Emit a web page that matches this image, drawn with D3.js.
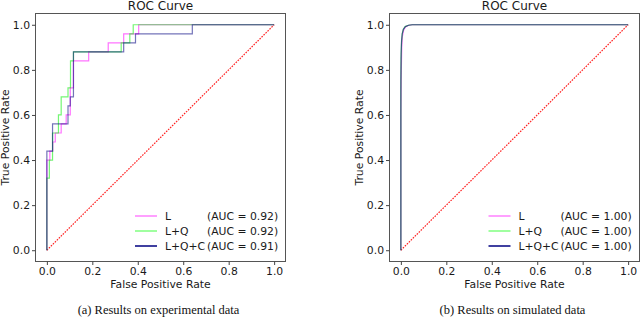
<!DOCTYPE html>
<html>
<head>
<meta charset="utf-8">
<script src="https://cdn.jsdelivr.net/npm/d3@7"></script>
<style>
  body { margin: 0; background: #fff; }
  text { font-family: "DejaVu Sans", sans-serif; fill: #1a1a1a; }
  .tick text { font-size: 10.8px; fill: #1a1a1a; }
  .tick line { stroke: #444; }
  .frame { fill: none; stroke: #555; stroke-width: 1; }
  .caption { font-family: "Liberation Serif", serif; font-size: 12.5px; fill: #111; }
  .diag { stroke: #ff2020; stroke-width: 1.2; stroke-dasharray: 1.6,1.2; fill: none; }
  .curve { fill: none; stroke-width: 1.2; stroke-opacity: 0.55; }
</style>
</head>
<body>
<svg id="chart" width="640" height="317"></svg>
<script>
// legend labels and AUC values
var curveNames = ['L', 'L+Q', 'L+Q+C'];
var curveColors = ['#ff00ff', '#00ee00', '#000080'];
var legendColors = ['#ff80ff', '#80ff80', '#000080'];
var expAUC = ['0.92', '0.92', '0.91'];
var simAUC = ['1.00', '1.00', '1.00'];
var ticks = [0, 0.2, 0.4, 0.6, 0.8, 1.0];

// (a) experimental data, step ROC curves
var expFprL = [0, 0, 0.013, 0.013, 0.026, 0.026, 0.037, 0.037, 0.063, 0.063, 0.085, 0.085, 0.103, 0.103, 0.117, 0.117, 0.184, 0.184, 0.27, 0.27, 0.338, 0.338, 0.404, 0.404, 1];
var expTprL = [0, 0.40, 0.40, 0.44, 0.44, 0.48, 0.48, 0.52, 0.52, 0.56, 0.56, 0.60, 0.60, 0.72, 0.72, 0.84, 0.84, 0.88, 0.88, 0.92, 0.92, 0.96, 0.96, 1.0, 1.0];
var expFprLQ = [0, 0, 0.011, 0.011, 0.025, 0.025, 0.051, 0.051, 0.063, 0.063, 0.093, 0.093, 0.104, 0.104, 0.117, 0.117, 0.327, 0.327, 0.365, 0.365, 0.38, 0.38, 1];
var expTprLQ = [0, 0.32, 0.32, 0.40, 0.40, 0.52, 0.52, 0.60, 0.60, 0.68, 0.68, 0.72, 0.72, 0.84, 0.84, 0.88, 0.88, 0.92, 0.92, 0.96, 0.96, 1.0, 1.0];
var expFprLQC = [0, 0, 0.025, 0.025, 0.093, 0.093, 0.103, 0.103, 0.117, 0.117, 0.338, 0.338, 0.39, 0.39, 0.64, 0.64, 1];
var expTprLQC = [0, 0.44, 0.44, 0.56, 0.56, 0.64, 0.64, 0.68, 0.68, 0.88, 0.88, 0.92, 0.92, 0.96, 0.96, 1.0, 1.0];

// (b) simulated data, smooth ROC curves hugging the corner
var simFprL = [0, 0, 0.002, 0.004, 0.007, 0.012, 0.02, 0.035, 0.05, 1];
var simTprL = [0, 0.6, 0.8, 0.9, 0.95, 0.975, 0.99, 0.998, 1.0, 1.0];
var simFprLQ = [0, 0, 0.001, 0.003, 0.006, 0.011, 0.019, 0.033, 0.05, 1];
var simTprLQ = [0, 0.7, 0.85, 0.92, 0.96, 0.98, 0.992, 0.998, 1.0, 1.0];
var simFprLQC = [0, 0, 0.001, 0.003, 0.006, 0.011, 0.02, 0.034, 0.05, 1];
var simTprLQC = [0, 0.75, 0.87, 0.93, 0.96, 0.98, 0.992, 0.998, 1.0, 1.0];

var svg = d3.select('#chart');

function drawPanel(left, right, curves, auc, caption, lx) {
  var top = 13.5, bottom = 261.5;
  var pw = right - left, ph = bottom - top;
  var x = d3.scaleLinear().domain([-0.05, 1.05]).range([left, right]);
  var y = d3.scaleLinear().domain([-0.05, 1.05]).range([bottom, top]);
  var g = svg.append('g');

  // diagonal reference
  g.append('line').attr('class', 'diag')
    .attr('x1', x(0)).attr('y1', y(0)).attr('x2', x(1)).attr('y2', y(1));

  var line = d3.line().x(d => x(d[0])).y(d => y(d[1]));
  curves.forEach((c, i) => {
    var pts = c[0].map((v, k) => [v, c[1][k]]);
    g.append('path').attr('class', 'curve')
      .attr('d', line(pts))
      .attr('stroke', curveColors[i]);
  });

  g.append('rect').attr('class', 'frame')
    .attr('x', left).attr('y', top).attr('width', pw).attr('height', ph);

  g.append('g').attr('transform', 'translate(0,' + bottom + ')')
    .call(d3.axisBottom(x).tickValues(ticks).tickFormat(d3.format('.1f')).tickSize(3.5).tickPadding(2))
    .call(a => a.select('.domain').remove());
  g.append('g').attr('transform', 'translate(' + left + ',0)')
    .call(d3.axisLeft(y).tickValues(ticks).tickFormat(d3.format('.1f')).tickSize(3.5).tickPadding(2))
    .call(a => a.select('.domain').remove());
  g.selectAll('.tick text').attr('font-family', '"DejaVu Sans", sans-serif');

  var cx = (left + right) / 2;
  g.append('text').attr('x', cx).attr('y', 9.5).attr('text-anchor', 'middle')
    .style('font-size', '12px').text('ROC Curve');
  g.append('text').attr('x', cx).attr('y', 288).attr('text-anchor', 'middle')
    .style('font-size', '10.8px').text('False Positive Rate');
  g.append('text').attr('transform', 'translate(' + (left - 27) + ',' + ((top + bottom) / 2) + ') rotate(-90)')
    .attr('text-anchor', 'middle').style('font-size', '10.8px').text('True Positive Rate');

  g.append('text').attr('class', 'caption').attr('x', cx - 2).attr('y', 314)
    .attr('text-anchor', 'middle').text(caption);

  // legend
  var rows = [216, 231, 246];
  curveNames.forEach((n, i) => {
    g.append('line').attr('x1', lx).attr('x2', lx + 22).attr('y1', rows[i]).attr('y2', rows[i])
      .attr('stroke', legendColors[i]).attr('stroke-width', 1.5);
    g.append('text').attr('x', lx + 30).attr('y', rows[i] + 3.9)
      .style('font-size', '10.8px').text(n);
    g.append('text').attr('x', lx + 72).attr('y', rows[i] + 3.9)
      .style('font-size', '10.8px').text('(AUC = ' + auc[i] + ')');
  });
}

drawPanel(35.5, 285.5,
  [[expFprL, expTprL], [expFprLQ, expTprLQ], [expFprLQC, expTprLQC]],
  expAUC, '(a) Results on experimental data', 135);
drawPanel(389.5, 639.5,
  [[simFprL, simTprL], [simFprLQ, simTprLQ], [simFprLQC, simTprLQC]],
  simAUC, '(b) Results on simulated data', 488.5);
</script>
</body>
</html>
